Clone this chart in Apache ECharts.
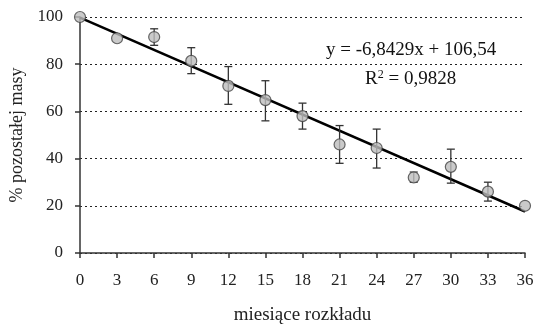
<!DOCTYPE html>
<html>
<head>
<meta charset="utf-8">
<script src="https://cdn.jsdelivr.net/npm/echarts@6/dist/echarts.min.js"></script>
<style>
  html, body { margin: 0; padding: 0; background: #fff; }
  #chart { width: 534px; height: 324px; }
</style>
</head>
<body>
<div id="chart"></div>
<script>
// miesiące rozkładu
const months = [0, 3, 6, 9, 12, 15, 18, 21, 24, 27, 30, 33, 36];
// % pozostałej masy (średnia)
const meanMass = [100, 91, 91.5, 81.4, 70.8, 64.8, 58, 46, 44.5, 32, 36.5, 26, 20];
// dolna / górna granica słupka błędu
const errLow = [100, 91, 88, 76, 63, 56, 52.5, 38, 36, 30, 29.6, 22, 20];
const errHigh = [100, 91, 95, 87, 79, 73, 63.5, 54, 52.5, 34.3, 44, 30, 20];
// trend: y = -6,8429x + 106,54 (x = numer pomiaru)
const slope = -6.8429;
const intercept = 106.54;
const trendLine = [months[0], months[months.length - 1]].map(function (m) {
  return [m, intercept + slope * (m / 3 + 1)];
});

const chart = echarts.init(document.getElementById('chart'));
const serif = 'Liberation Serif, Times New Roman, serif';

const options = {
  animation: false,
  textStyle: { fontFamily: serif },
  grid: { left: 80, right: 9, top: 17, bottom: 71, outerBoundsMode: 'none', containLabel: false },
  xAxis: {
    type: 'value',
    min: 0, max: 36, interval: 3,
    name: 'miesiące rozkładu',
    nameLocation: 'middle',
    nameGap: 53,
    nameTextStyle: { fontFamily: serif, fontSize: 19, color: '#222' },
    axisLine: { show: true, lineStyle: { color: '#333', width: 1.5 } },
    axisTick: { show: true, length: 5, lineStyle: { color: '#333', width: 1.5 } },
    axisLabel: { fontFamily: serif, fontSize: 17, color: '#222', margin: 19 },
    splitLine: { show: false }
  },
  yAxis: {
    type: 'value',
    min: 0, max: 100, interval: 20,
    name: '% pozostałej masy',
    nameLocation: 'middle',
    nameGap: 52,
    nameTextStyle: { fontFamily: serif, fontSize: 18, color: '#222' },
    axisLine: { show: true, lineStyle: { color: '#333', width: 1.5 } },
    axisTick: { show: true, length: 5, lineStyle: { color: '#333', width: 1.5 } },
    axisLabel: { fontFamily: serif, fontSize: 17, color: '#222', margin: 17 },
    splitLine: { show: true, lineStyle: { color: '#222', type: [2, 3], width: 1.2 } }
  },
  series: [
    {
      type: 'line',
      data: trendLine,
      symbol: 'none',
      lineStyle: { color: '#000', width: 2.5 },
      z: 3
    },
    {
      type: 'custom',
      data: months.map(function (m, i) { return [m, errLow[i], errHigh[i]]; }),
      renderItem: function (params, api) {
        const lo = api.coord([api.value(0), api.value(1)]);
        const hi = api.coord([api.value(0), api.value(2)]);
        if (Math.abs(hi[1] - lo[1]) < 1) return null;
        const w = 4;
        const st = { stroke: '#333', lineWidth: 1.3 };
        return {
          type: 'group',
          children: [
            { type: 'line', shape: { x1: lo[0], y1: lo[1], x2: hi[0], y2: hi[1] }, style: st },
            { type: 'line', shape: { x1: lo[0] - w, y1: lo[1], x2: lo[0] + w, y2: lo[1] }, style: st },
            { type: 'line', shape: { x1: hi[0] - w, y1: hi[1], x2: hi[0] + w, y2: hi[1] }, style: st }
          ]
        };
      },
      z: 4
    },
    {
      type: 'scatter',
      data: months.map(function (m, i) { return [m, meanMass[i]]; }),
      symbol: 'circle',
      symbolSize: 11,
      itemStyle: { color: '#bdbdbd', borderColor: '#444', borderWidth: 1.2 },
      z: 5
    }
  ],
  graphic: [
    {
      type: 'text',
      left: 326, top: 41,
      style: { text: 'y = -6,8429x + 106,54', font: '19px ' + serif, fill: '#111' }
    },
    {
      type: 'text',
      left: 365, top: 69,
      style: {
        text: 'R{s|2} = 0,9828',
        font: '19px ' + serif, fill: '#111',
        rich: { s: { fontSize: 12, fontFamily: serif, verticalAlign: 'top', padding: [0, 0, 9, 0] } }
      }
    }
  ]
};

chart.setOption(options);
</script>
</body>
</html>
